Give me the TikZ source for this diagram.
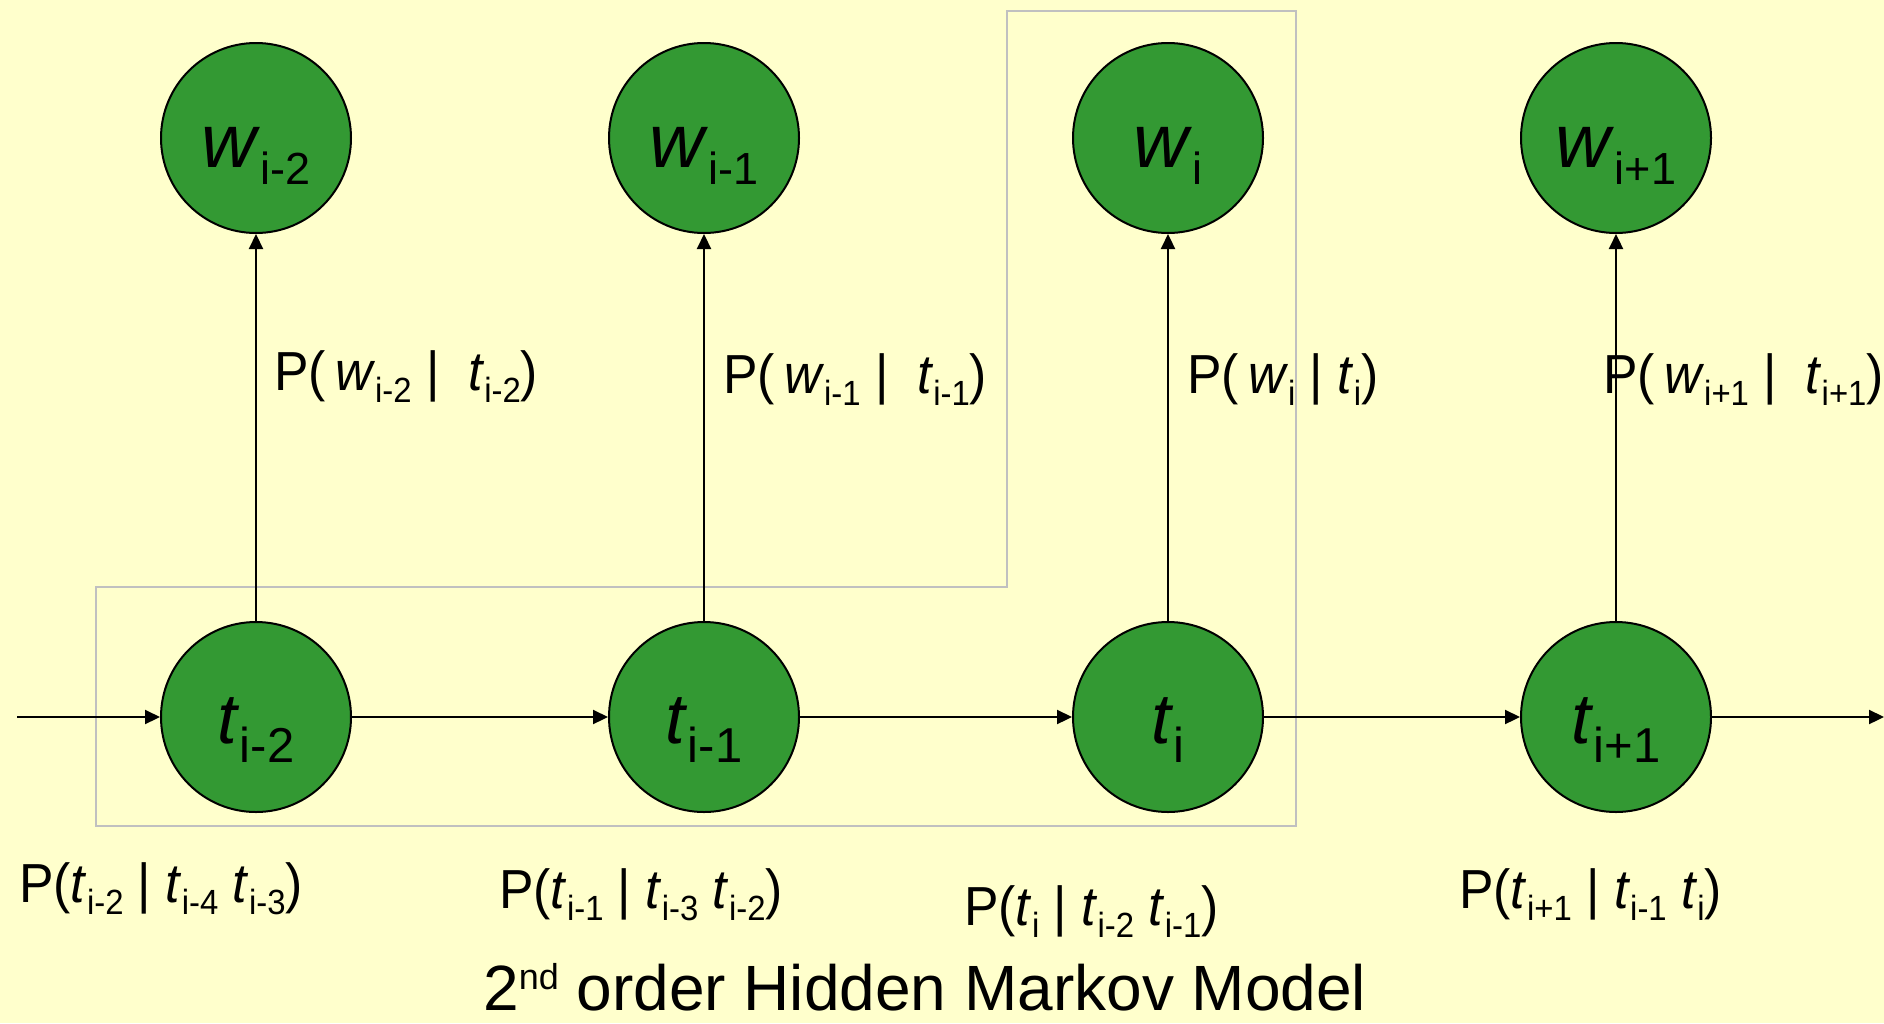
\documentclass[tikz,border=0pt]{standalone}
\usepackage{fontspec}
\setmainfont{Liberation Sans}
\newfontfamily\lblfont[FakeStretch=0.94]{Liberation Sans}
\usetikzlibrary{arrows.meta}
\definecolor{bgyellow}{HTML}{FFFFCC}
\definecolor{hmmgreen}{HTML}{339933}
\definecolor{boxgray}{HTML}{C0C0C0}
\newcommand\lsub[1]{\raisebox{-12pt}{\fontsize{35}{35}\selectfont #1}}
\newcommand\nsubw[1]{\raisebox{-17pt}{\fontsize{45}{45}\selectfont #1}}
\newcommand\nsubt[1]{\raisebox{-19pt}{\fontsize{49}{49}\selectfont #1}}
\tikzset{
  hnode/.style={circle, draw=black, line width=2pt, fill=hmmgreen, minimum size=190pt, inner sep=0pt},
  wnode/.style={hnode, text height=58pt, text depth=0pt, font=\fontsize{76}{80}\selectfont},
  tnode/.style={hnode, text height=52pt, text depth=0pt, font=\fontsize{71}{76}\selectfont},
  plabel/.style={anchor=base west, inner sep=0pt, font=\lblfont\fontsize{55}{60}\selectfont},
  conn/.style={draw=black, line width=2.2pt, -{Triangle[length=15pt,width=14pt]}},
  grpbox/.style={draw=boxgray, line width=2pt}
}
\begin{document}
\begin{tikzpicture}[x=1pt,y=-1pt]
\useasboundingbox (0,0) rectangle (1884,1023);
\fill[bgyellow] (0,0) rectangle (1884,1023);
% group box
\draw[grpbox] (96,587) -- (1007,587) -- (1007,11) -- (1296,11) -- (1296,826) -- (96,826) -- cycle;
% nodes
\node[wnode] (w1) at (256,138) {\textit{w}\nsubw{i-2}};
\node[wnode] (w2) at (704,138) {\textit{w}\nsubw{i-1}};
\node[wnode] (w3) at (1168,138) {\textit{w}\nsubw{i}};
\node[wnode] (w4) at (1616,138) {\textit{w}\nsubw{i+1}};
\node[tnode] (t1) at (256,717) {\textit{t}\nsubt{i-2}};
\node[tnode] (t2) at (704,717) {\textit{t}\nsubt{i-1}};
\node[tnode] (t3) at (1168,717) {\textit{t}\nsubt{i}};
\node[tnode] (t4) at (1616,717) {\textit{t}\nsubt{i+1}};
\coordinate (start) at (17,717);
\coordinate (finish) at (1884,717);
% connectors
\draw[conn] (start) -- (t1);
\draw[conn] (t1) -- (t2);
\draw[conn] (t2) -- (t3);
\draw[conn] (t3) -- (t4);
\draw[conn] (t4) -- (finish);
\draw[conn] (t1) -- (w1);
\draw[conn] (t2) -- (w2);
\draw[conn] (t3) -- (w3);
\draw[conn] (t4) -- (w4);
% labels
\node[plabel] (l1) at (274,390) {P(\,\textit{w}\lsub{i-2} |\ \ \textit{t}\lsub{i-2})};
\node[plabel] (l2) at (723,393) {P(\,\textit{w}\lsub{i-1} |\ \ \textit{t}\lsub{i-1})};
\node[plabel] (l3) at (1187,393) {P(\,\textit{w}\lsub{i} | \textit{t}\lsub{i})};
\node[plabel] (l4) at (1603,393) {P(\,\textit{w}\lsub{i+1} |\ \ \textit{t}\lsub{i+1})};
\node[plabel] (b1) at (19,902) {P(\textit{t}\lsub{i-2} | \textit{t}\lsub{i-4} \textit{t}\lsub{i-3})};
\node[plabel] (b2) at (499,908) {P(\textit{t}\lsub{i-1} | \textit{t}\lsub{i-3} \textit{t}\lsub{i-2})};
\node[plabel] (b3) at (964,925) {P(\textit{t}\lsub{i} | \textit{t}\lsub{i-2} \textit{t}\lsub{i-1})};
\node[plabel] (b4) at (1459,908) {P(\textit{t}\lsub{i+1} | \textit{t}\lsub{i-1} \textit{t}\lsub{i})};
\node[anchor=base west, inner sep=0pt, font=\fontsize{64}{70}\selectfont] (title) at (483,1010) {2\raisebox{21pt}{\fontsize{36}{36}\selectfont nd} order Hidden Markov Model};
\end{tikzpicture}
\end{document}
